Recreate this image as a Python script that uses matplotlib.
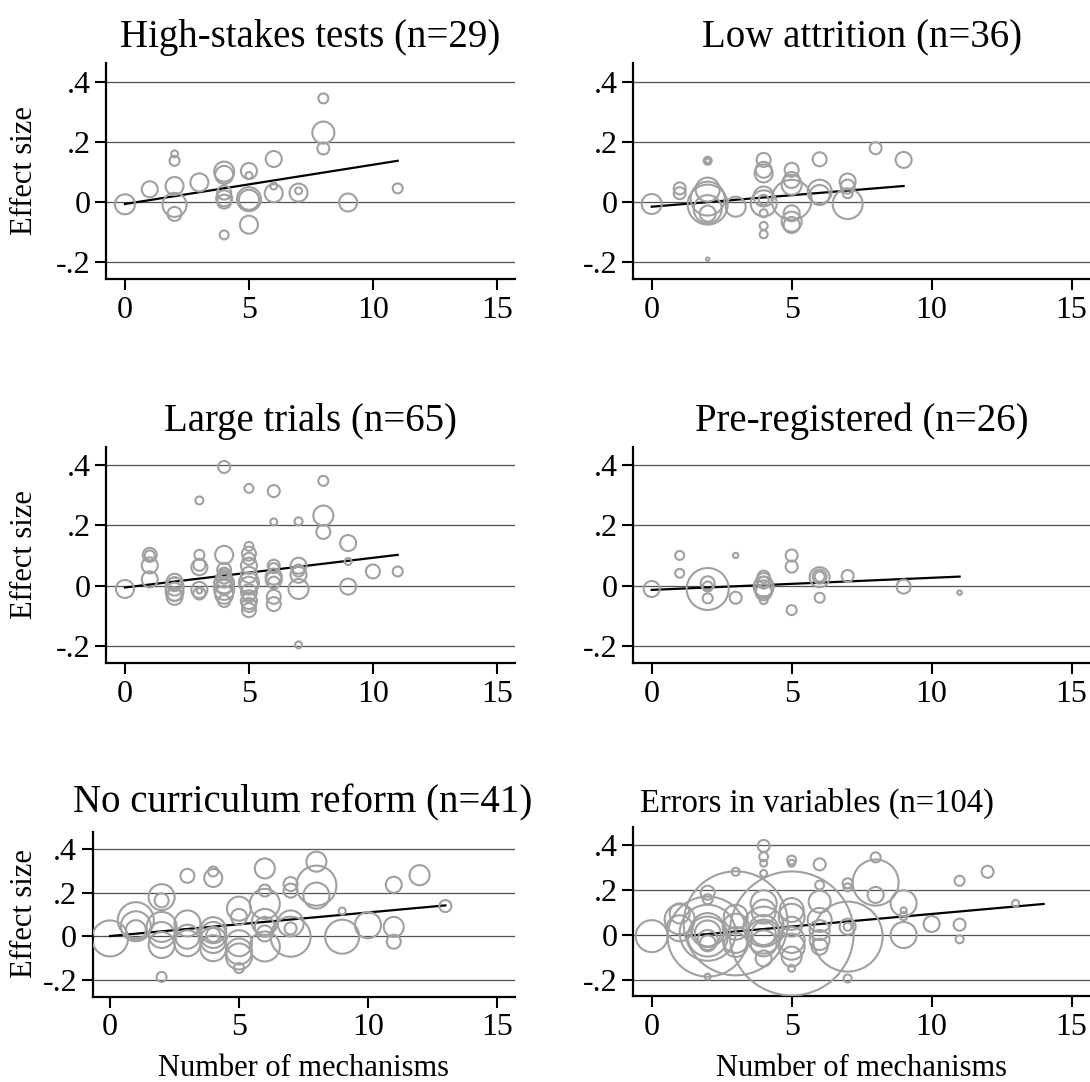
import matplotlib.pyplot as plt

plt.rcParams['font.family'] = ['Liberation Serif', 'DejaVu Serif']

# ---- data (x = number of mechanisms, y = effect size, w = study weight) ----
hs_x = [0, 1, 2, 2, 2, 2, 2, 3, 4, 4, 4, 4, 4, 4, 5, 5, 5, 5, 5, 6, 6, 6, 7, 7, 8, 8, 8, 9, 11]
hs_y = [-0.009, 0.041, 0.159, 0.136, 0.052, -0.011, -0.041, 0.064, 0.100, 0.089, 0.030, 0.011, 0.000,
        -0.111, 0.102, 0.087, 0.008, 0.006, -0.077, 0.142, 0.052, 0.028, 0.030, 0.036, 0.344, 0.230,
        0.177, -0.003, 0.044]
hs_w = [100, 64, 12, 25, 81, 144, 49, 81, 100, 81, 49, 64, 49, 20, 64, 12, 144, 100, 81, 64, 12, 81,
        81, 12, 25, 121, 36, 81, 25]
hs_fit_x = [0, 11]
hs_fit_y = [-0.008, 0.136]

la_x = [0, 1, 1, 2, 2, 2, 2, 2, 2, 2, 2, 3, 4, 4, 4, 4, 4, 4, 4, 4, 4, 5, 5, 5, 5, 5, 5, 5,
        6, 6, 6, 7, 7, 7, 7, 8, 9]
la_y = [-0.008, 0.044, 0.028, 0.136, 0.136, 0.040, 0.010, -0.010, -0.025, -0.040, -0.192, -0.017,
        0.139, 0.106, 0.094, 0.017, -0.006, 0.006, -0.039, -0.081, -0.109,
        0.106, 0.072, 0.056, 0.006, -0.039, -0.067, -0.078,
        0.141, 0.033, 0.022, 0.067, 0.050, 0.028, -0.008, 0.178, 0.139]
la_w = [100, 36, 36, 16, 5, 144, 289, 400, 196, 64, 3, 100,
        49, 64, 81, 100, 169, 25, 16, 16, 16,
        49, 64, 100, 400, 64, 100, 64,
        49, 144, 100, 64, 49, 25, 225, 36, 64]
la_fit_x = [0, 9]
la_fit_y = [-0.017, 0.052]

lt_x = [0, 1, 1, 1, 1, 2, 2, 2, 2, 2, 2, 3, 3, 3, 3, 3, 3, 3,
        4, 4, 4, 4, 4, 4, 4, 4, 4, 4, 4,
        5, 5, 5, 5, 5, 5, 5, 5, 5, 5, 5, 5, 5,
        6, 6, 6, 6, 6, 6, 6, 6, 6, 7, 7, 7, 7, 7, 7, 8, 8, 8, 9, 9, 9, 10, 11]
lt_y = [-0.011, 0.102, 0.067, 0.021, 0.100, 0.013, -0.003, -0.020, -0.037, 0.005, -0.028,
        0.282, 0.102, 0.061, 0.069, -0.014, -0.026, -0.017,
        0.393, 0.102, 0.052, 0.030, 0.008, -0.014, -0.051, -0.003, 0.020, -0.030, 0.040,
        0.322, 0.130, 0.106, 0.089, 0.066, 0.036, 0.010, -0.022, -0.051, -0.081, -0.064, 0.000, -0.035,
        0.313, 0.211, 0.066, 0.058, 0.030, 0.019, -0.037, -0.061, 0.010,
        0.213, 0.066, 0.036, -0.011, -0.196, 0.050, 0.347, 0.232, 0.178, 0.141, 0.080, -0.003,
        0.047, 0.047]
lt_w = [81, 49, 64, 64, 25, 64, 81, 81, 64, 49, 49,
        16, 25, 64, 36, 64, 36, 7,
        36, 81, 49, 49, 100, 100, 36, 64, 64, 81, 36,
        20, 20, 49, 36, 64, 64, 100, 64, 64, 49, 49, 81, 36,
        36, 12, 36, 25, 64, 64, 49, 49, 36,
        16, 64, 64, 100, 12, 36, 25, 100, 49, 64, 12, 64, 49, 25]
lt_fit_x = [0, 11]
lt_fit_y = [-0.006, 0.102]

pr_x = [0, 1, 1, 2, 2, 2, 2, 3, 3, 4, 4, 4, 4, 4, 4, 4, 5, 5, 5, 6, 6, 6, 6, 7, 9, 11]
pr_y = [-0.011, 0.100, 0.041, -0.011, 0.008, -0.003, -0.042, 0.100, -0.040,
        0.030, 0.019, -0.003, -0.012, -0.022, -0.048, 0.010,
        0.100, 0.063, -0.081, 0.028, 0.030, 0.030, -0.040, 0.032, -0.003, -0.023]
pr_w = [64, 20, 20, 441, 49, 25, 25, 7, 36, 36, 49, 100, 81, 64, 16, 36,
        36, 36, 25, 100, 49, 25, 25, 36, 49, 5]
pr_fit_x = [0, 11]
pr_fit_y = [-0.014, 0.030]

nc_x = [0, 1, 1, 1, 2, 2, 2, 2, 2, 2, 3, 3, 3, 3, 4, 4, 4, 4, 4, 4, 4,
        5, 5, 5, 5, 5, 5, 6, 6, 6, 6, 6, 6, 6, 7, 7, 7, 7, 7, 8, 8, 8, 9, 9, 10, 11, 11, 11, 12, 13]
nc_y = [-0.011, 0.073, 0.045, 0.027, 0.179, 0.164, 0.042, 0.005, -0.041, -0.188,
        0.277, 0.058, -0.003, -0.033, 0.297, 0.267, 0.027, 0.005, -0.018, -0.056, 0.005,
        0.126, 0.088, -0.033, -0.071, -0.094, -0.147,
        0.311, 0.209, 0.148, 0.065, 0.042, -0.048, 0.012,
        0.239, 0.209, 0.035, -0.003, 0.058, 0.342, 0.232, 0.186, 0.115, -0.003,
        0.050, 0.236, 0.042, -0.026, 0.280, 0.138]
nc_w = [324, 324, 225, 100, 169, 49, 225, 169, 169, 25,
        49, 169, 144, 169, 25, 81, 169, 169, 169, 169, 49,
        144, 64, 169, 169, 169, 25,
        100, 36, 225, 169, 100, 225, 64,
        49, 49, 36, 400, 169, 100, 400, 169, 12, 289,
        169, 64, 100, 49, 100, 36]
nc_fit_x = [0, 13]
nc_fit_y = [0.000, 0.141]

ev_x = [0, 1, 1, 1, 2, 2, 2, 2, 2, 2, 2, 2, 2, 2,
        3, 3, 3, 3, 3, 3, 4, 4, 4, 4, 4, 4, 4, 4, 4, 4, 4, 4,
        5, 5, 5, 5, 5, 5, 5, 5, 5, 5, 6, 6, 6, 6, 6, 6, 6,
        7, 7, 7, 7, 7, 7, 8, 8, 8, 9, 9, 9, 9, 10, 11, 11, 11, 12, 13]
ev_y = [-0.005, 0.070, 0.096, 0.030, 0.188, 0.159, -0.185, 0.022, -0.007, 0.007, -0.022, -0.037,
        -0.007, 0.010,
        0.281, 0.081, 0.037, -0.022, -0.044, 0.052,
        0.396, 0.348, 0.319, 0.274, 0.141, 0.104, 0.037, 0.022, 0.007, -0.007, -0.037, -0.104,
        0.333, 0.319, 0.111, 0.081, 0.037, -0.022, -0.052, -0.096, -0.148, 0.007,
        0.314, 0.222, 0.148, 0.067, 0.022, -0.022, -0.052,
        0.230, 0.212, 0.037, 0.037, -0.193, -0.007, 0.345, 0.233, 0.178,
        0.141, 0.110, 0.084, 0.000, 0.049, 0.241, 0.046, -0.019, 0.281, 0.141]
ev_w = [256, 225, 100, 169, 49, 25, 9, 289, 400, 169, 100, 64, 1600, 784,
        16, 144, 169, 169, 144, 2704,
        36, 20, 12, 12, 169, 144, 400, 225, 144, 289, 169, 64,
        20, 12, 144, 169, 100, 169, 169, 100, 12, 3844,
        36, 20, 121, 144, 100, 100, 64,
        25, 16, 64, 16, 16, 1225, 25, 529, 64,
        169, 9, 16, 169, 64, 25, 36, 16, 36, 12]
ev_fit_x = [1.25, 14]
ev_fit_y = [-0.004, 0.138]

titles = ['High-stakes tests (n=29)', 'Low attrition (n=36)', 'Large trials (n=65)',
          'Pre-registered (n=26)', 'No curriculum reform (n=41)', 'Errors in variables (n=104)']
yticks = [-0.2, 0, 0.2, 0.4]
ytick_labels = ['-.2', '0', '.2', '.4']
xticks = [0, 5, 10, 15]

W, H = 1090, 1082
fig = plt.figure(figsize=(W / 100, H / 100), dpi=100)


def box(l, r, t, b):
    return [l / W, 1 - b / H, (r - l) / W, (b - t) / H]


panels = [
    (hs_x, hs_y, hs_w, hs_fit_x, hs_fit_y, box(106, 515, 63, 279), (-0.765, 15.73), (-0.258, 0.462)),
    (la_x, la_y, la_w, la_fit_x, la_fit_y, box(633, 1092, 63, 279), (-0.668, 15.73), (-0.258, 0.462)),
    (lt_x, lt_y, lt_w, lt_fit_x, lt_fit_y, box(106, 515, 447, 663), (-0.765, 15.73), (-0.256, 0.459)),
    (pr_x, pr_y, pr_w, pr_fit_x, pr_fit_y, box(633, 1092, 447, 663), (-0.668, 15.73), (-0.256, 0.459)),
    (nc_x, nc_y, nc_w, nc_fit_x, nc_fit_y, box(92.5, 515, 831.7, 996.7), (-0.68, 15.70), (-0.279, 0.480)),
    (ev_x, ev_y, ev_w, ev_fit_x, ev_fit_y, box(633, 1092, 827, 996), (-0.668, 15.73), (-0.271, 0.480)),
]

title_pos = [(310, 47, 28), (862, 47, 28), (310, 431, 28), (862, 431, 28), (303, 812, 28), (817, 812, 23.5)]

px2pt = 72 / 100
for i, (x, y, w, fx, fy, rect, xl, yl) in enumerate(panels):
    ax = fig.add_axes(rect)
    ax.set_xlim(*xl)
    ax.set_ylim(*yl)
    for yv in yticks:
        ax.axhline(yv, color='#505050', lw=0.9, zorder=1)
    ax.plot(fx, fy, color='black', lw=1.6, zorder=2)
    sizes = [(2 * px2pt) ** 2 * v for v in w]
    ax.scatter(x, y, s=sizes, facecolors='none', edgecolors='#a0a0a0', linewidths=1.5, zorder=3)
    ax.set_xticks(xticks)
    ax.set_yticks(yticks)
    ax.set_yticklabels(ytick_labels)
    ax.tick_params(axis='both', direction='out', length=8, width=1.5, labelsize=23, pad=3, color='black')
    ax.tick_params(axis='x', pad=4)
    for side in ['top', 'right']:
        ax.spines[side].set_visible(False)
    for side in ['left', 'bottom']:
        ax.spines[side].set_linewidth(1.6)
    ax.patch.set_alpha(0)
    tx, ty, tsz = title_pos[i]
    fig.text(tx / W, 1 - ty / H, titles[i], ha='center', va='baseline', fontsize=tsz)

for yc in [171, 555, 914]:
    fig.text(25 / W, 1 - yc / H, 'Effect size', rotation=90, ha='center', va='center', fontsize=22)
for xc in [303, 862]:
    fig.text(xc / W, 1 - 1068 / H, 'Number of mechanisms', ha='center', va='center', fontsize=22)

fig.savefig('out.png', dpi=100, facecolor='white')
